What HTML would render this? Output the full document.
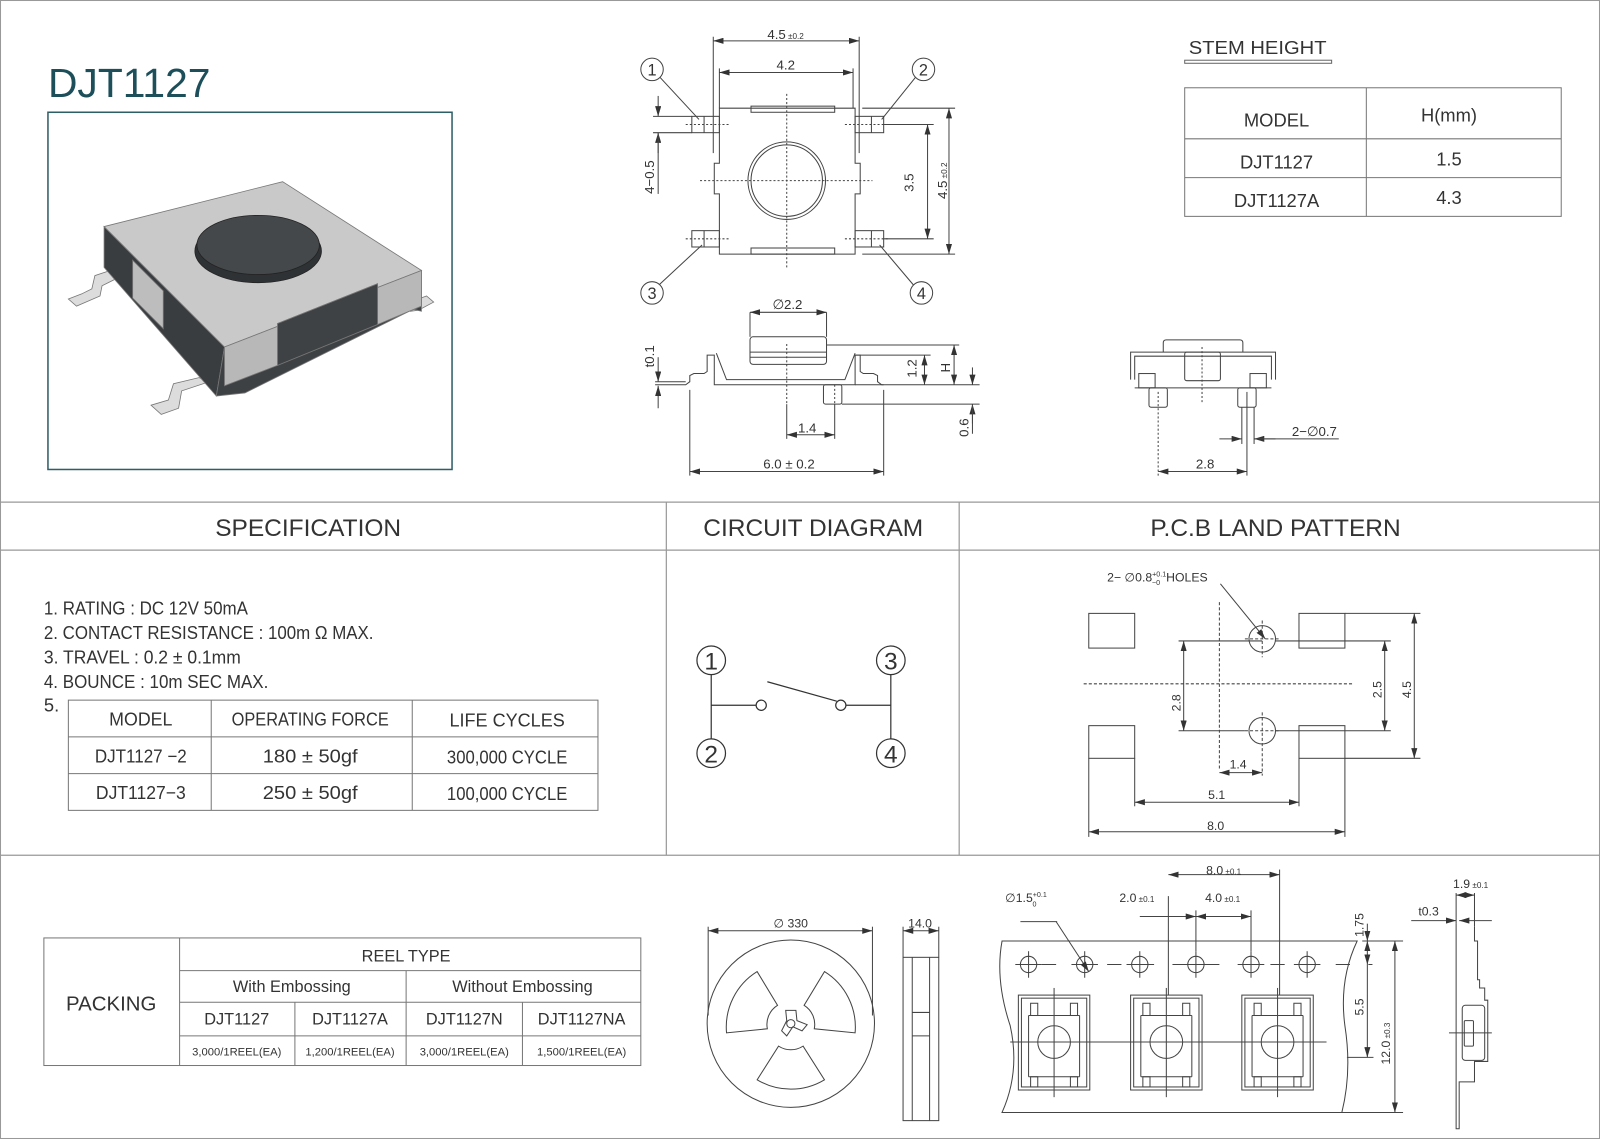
<!DOCTYPE html>
<html><head><meta charset="utf-8"><style>
html,body{margin:0;padding:0;background:#fff;}
svg{display:block;}
text{font-family:"Liberation Sans",sans-serif;fill:#333;}
</style></head><body>
<svg width="1600" height="1139" viewBox="0 0 1568 1116" preserveAspectRatio="none" xmlns="http://www.w3.org/2000/svg">
<defs>
<marker id="a" viewBox="0 0 10 6" refX="10" refY="3" markerWidth="10" markerHeight="6" orient="auto-start-reverse" markerUnits="userSpaceOnUse"><path d="M0,0 L10,3 L0,6z" fill="#333"/></marker>
</defs>
<rect x="0.5" y="0.5" width="1567" height="1115" fill="#fff" stroke="#999"/>
<g stroke="#999" stroke-width="1.2">
<line x1="0" y1="492" x2="1568" y2="492"/><line x1="0" y1="539" x2="1568" y2="539"/><line x1="0" y1="838" x2="1568" y2="838"/>
<line x1="653" y1="492" x2="653" y2="838"/><line x1="940" y1="492" x2="940" y2="838"/>
</g>
<text x="47" y="95" font-size="40" style="fill:#1d4f5a">DJT1127</text>
<rect x="47" y="110" width="396" height="350" fill="#fff" stroke="#2e5e66" stroke-width="1.5"/>
<!-- photo -->
<g stroke="#777" stroke-width="0.8">
<path d="M67,293 L80,288 L90,283 L93,270 L108,265 L120,263 L112,274 L100,280 L98,290 L75,300Z" fill="#dcdcdc"/>
<path d="M148,397 L165,392 L170,376 L195,370 L205,374 L178,383 L175,400 L158,406Z" fill="#dcdcdc"/>
<path d="M398,300 L410,293 L418,290 L425,296 L410,304 L402,305Z" fill="#dcdcdc"/>
<path d="M102,222 L102,262 L212,388 L220,340Z" fill="#3a3d40"/>
<path d="M130,255 L160,285 L160,322 L130,292Z" fill="#bdbdbd"/>
<path d="M220,340 L212,388 L240,385 L405,303 L413,305 L413,265Z" fill="#3e4144"/>
<path d="M102,222 L277,178 L413,265 L220,340Z" fill="#c9c9c9"/>
<path d="M220,340 L413,265 L413,300 L370,318 L370,278 L272,317 L272,358 L220,378Z" fill="#b8b8b8"/>
<path d="M272,317 L370,278 L370,318 L272,358Z" fill="#3f4245"/>
<ellipse cx="253" cy="246" rx="62" ry="31" fill="#2f3235" stroke="#222"/>
<ellipse cx="253" cy="240" rx="60" ry="29" fill="#45484b" stroke="#222"/>
</g>
<!-- top view -->
<g stroke="#444" stroke-width="1" fill="none">
<line x1="699" y1="36" x2="699" y2="150"/><line x1="842" y1="36" x2="842" y2="150"/>
<line x1="705" y1="67" x2="705" y2="106"/><line x1="836" y1="67" x2="836" y2="106"/>
<line x1="699" y1="40" x2="842" y2="40" marker-start="url(#a)" marker-end="url(#a)"/>
<line x1="705" y1="71" x2="836" y2="71" marker-start="url(#a)" marker-end="url(#a)"/>
<path d="M705,106 H838 V160 H843 V190 H838 V249 H705 V190 H700 V160 H705Z"/>
<rect x="736" y="104" width="82" height="6"/><rect x="736" y="243" width="82" height="6"/>
<circle cx="771" cy="177" r="38"/><circle cx="771" cy="177" r="35"/>
<rect x="678" y="114" width="27" height="16"/><rect x="678" y="226" width="27" height="16"/>
<rect x="838" y="114" width="28" height="16"/><rect x="838" y="226" width="28" height="16"/>
<line x1="690" y1="114" x2="690" y2="130"/><line x1="690" y1="226" x2="690" y2="242"/>
<line x1="854" y1="114" x2="854" y2="130"/><line x1="854" y1="226" x2="854" y2="242"/>
<g stroke-dasharray="2,2"><line x1="771" y1="92" x2="771" y2="262"/><line x1="686" y1="177" x2="855" y2="177"/>
<line x1="672" y1="122" x2="715" y2="122"/><line x1="672" y1="234" x2="715" y2="234"/><line x1="828" y1="122" x2="872" y2="122"/><line x1="828" y1="234" x2="872" y2="234"/></g>
<circle cx="639" cy="68" r="11"/><circle cx="905" cy="68" r="11"/><circle cx="639" cy="287" r="11"/><circle cx="903" cy="287" r="11"/>
<line x1="647" y1="76" x2="685" y2="117"/><line x1="897" y1="76" x2="864" y2="117"/><line x1="646" y1="279" x2="688" y2="240"/><line x1="895" y1="279" x2="862" y2="240"/>
<line x1="640" y1="114" x2="678" y2="114"/><line x1="640" y1="130" x2="678" y2="130"/>
<line x1="645" y1="94" x2="645" y2="114" marker-end="url(#a)"/><line x1="645" y1="150" x2="645" y2="130" marker-end="url(#a)"/>
<line x1="645" y1="130" x2="645" y2="190"/>
<line x1="866" y1="122" x2="915" y2="122"/><line x1="866" y1="234" x2="915" y2="234"/>
<line x1="909" y1="122" x2="909" y2="234" marker-start="url(#a)" marker-end="url(#a)"/>
<line x1="845" y1="106" x2="936" y2="106"/><line x1="845" y1="249" x2="936" y2="249"/>
<line x1="930" y1="106" x2="930" y2="249" marker-start="url(#a)" marker-end="url(#a)"/>
</g>
<g font-size="12">
<text x="752" y="38" font-size="13">4.5<tspan font-size="8"> ±0.2</tspan></text>
<text x="761" y="68" font-size="13">4.2</text>
<text x="639" y="74" font-size="16" text-anchor="middle">1</text><text x="905" y="74" font-size="16" text-anchor="middle">2</text>
<text x="639" y="293" font-size="16" text-anchor="middle">3</text><text x="903" y="293" font-size="16" text-anchor="middle">4</text>
<text transform="translate(641,190) rotate(-90)" font-size="13">4−0.5</text>
<text transform="translate(895,188) rotate(-90)" font-size="13">3.5</text>
<text transform="translate(928,195) rotate(-90)" font-size="13">4.5<tspan font-size="8"> ±0.2</tspan></text>
</g>
<!-- side view -->
<g stroke="#444" stroke-width="1" fill="none">
<path d="M642,377 H672 L676,374 V368 L680,366 H690 L693,364 V348 H700 V377 H838 V348 H843 V364 L846,366 H856 L860,368 V374 L864,377 H866"/>
<path d="M702,346 L712,372 H828 L838,346"/>
<rect x="735" y="330" width="75" height="27" rx="3"/><line x1="735" y1="345" x2="810" y2="345"/><line x1="735" y1="350" x2="810" y2="350"/>
<rect x="807" y="377" width="18" height="19" rx="2"/>
<line x1="771" y1="337" x2="771" y2="396" stroke-dasharray="2,2"/><line x1="818" y1="377" x2="818" y2="396" stroke-dasharray="2,2"/>
<line x1="735" y1="306" x2="810" y2="306" marker-start="url(#a)" marker-end="url(#a)"/>
<line x1="735" y1="306" x2="735" y2="330"/><line x1="810" y1="306" x2="810" y2="330"/>
<line x1="810" y1="338" x2="940" y2="338"/><line x1="838" y1="348" x2="912" y2="348"/><line x1="838" y1="377" x2="960" y2="377"/><line x1="825" y1="396" x2="960" y2="396"/>
<line x1="906" y1="348" x2="906" y2="377" marker-start="url(#a)" marker-end="url(#a)"/>
<line x1="935" y1="338" x2="935" y2="377" marker-start="url(#a)" marker-end="url(#a)"/>
<line x1="953" y1="360" x2="953" y2="377" marker-end="url(#a)"/><line x1="953" y1="415" x2="953" y2="396" marker-end="url(#a)"/><line x1="953" y1="396" x2="953" y2="425"/>
<line x1="645" y1="350" x2="645" y2="374" marker-end="url(#a)"/><line x1="645" y1="400" x2="645" y2="378" marker-end="url(#a)"/><line x1="642" y1="374" x2="672" y2="374"/>
<line x1="771" y1="396" x2="771" y2="430"/><line x1="818" y1="396" x2="818" y2="430"/>
<line x1="771" y1="426" x2="818" y2="426" marker-start="url(#a)" marker-end="url(#a)"/>
<line x1="676" y1="382" x2="676" y2="466"/><line x1="866" y1="382" x2="866" y2="466"/>
<line x1="676" y1="462" x2="866" y2="462" marker-start="url(#a)" marker-end="url(#a)"/>
</g>
<g font-size="13">
<text x="757" y="303">∅2.2</text><text x="782" y="424">1.4</text><text x="748" y="459">6.0 ± 0.2</text>
<text transform="translate(641,360) rotate(-90)">t0.1</text><text transform="translate(898,370) rotate(-90)">1.2</text>
<text transform="translate(931,365) rotate(-90)">H</text><text transform="translate(949,428) rotate(-90)">0.6</text>
</g>
<!-- right side view -->
<g stroke="#444" stroke-width="1" fill="none">
<path d="M1108,372 V345 H1250 V372"/><path d="M1112,372 V349 H1246 V372"/>
<path d="M1140,345 V336 Q1140,333 1143,333 H1215 Q1218,333 1218,336 V345"/>
<rect x="1161" y="345" width="35" height="28" rx="2"/>
<rect x="1116" y="366" width="16" height="14"/><rect x="1225" y="366" width="16" height="14"/>
<line x1="1112" y1="380" x2="1246" y2="380"/>
<rect x="1126" y="380" width="18" height="19" rx="2"/><rect x="1213" y="380" width="18" height="19" rx="2"/>
<line x1="1178" y1="340" x2="1178" y2="395" stroke-dasharray="2,2"/>
<line x1="1135" y1="384" x2="1135" y2="466" stroke-dasharray="2,2"/><line x1="1222" y1="384" x2="1222" y2="466"/>
<line x1="1217" y1="399" x2="1217" y2="435"/><line x1="1229" y1="399" x2="1229" y2="435"/>
<line x1="1195" y1="430" x2="1217" y2="430" marker-end="url(#a)"/><line x1="1250" y1="430" x2="1229" y2="430" marker-end="url(#a)"/><line x1="1229" y1="430" x2="1312" y2="430"/>
<line x1="1135" y1="462" x2="1222" y2="462" marker-start="url(#a)" marker-end="url(#a)"/>
</g>
<g font-size="13"><text x="1266" y="427">2−∅0.7</text><text x="1172" y="459">2.8</text></g>
<!-- stem height table -->
<text x="1165" y="53" font-size="18" textLength="135" lengthAdjust="spacingAndGlyphs">STEM HEIGHT</text>
<rect x="1161" y="59" width="144" height="3" fill="none" stroke="#666"/>
<g stroke="#777" stroke-width="1" fill="none">
<rect x="1161" y="86" width="369" height="126"/><line x1="1339" y1="86" x2="1339" y2="212"/>
<line x1="1161" y1="136" x2="1530" y2="136"/><line x1="1161" y1="174" x2="1530" y2="174"/>
</g>
<g font-size="18" text-anchor="middle"><text x="1251" y="124">MODEL</text><text x="1420" y="119">H(mm)</text>
<text x="1251" y="165">DJT1127</text><text x="1420" y="162">1.5</text><text x="1251" y="203">DJT1127A</text><text x="1420" y="200">4.3</text></g>
<!-- headers -->
<g font-size="24" text-anchor="middle"><text x="302" y="525">SPECIFICATION</text><text x="797" y="525">CIRCUIT DIAGRAM</text><text x="1250" y="525">P.C.B LAND PATTERN</text></g>
<!-- spec -->
<g font-size="18" lengthAdjust="spacingAndGlyphs">
<text x="43" y="602" textLength="200" lengthAdjust="spacingAndGlyphs">1. RATING : DC 12V 50mA</text>
<text x="43" y="626" textLength="323" lengthAdjust="spacingAndGlyphs">2. CONTACT RESISTANCE : 100m Ω  MAX.</text>
<text x="43" y="650" textLength="193" lengthAdjust="spacingAndGlyphs">3. TRAVEL :  0.2 ± 0.1mm</text>
<text x="43" y="674" textLength="220" lengthAdjust="spacingAndGlyphs">4. BOUNCE : 10m SEC MAX.</text><text x="43" y="697">5.</text>
</g>
<g stroke="#777" fill="none"><rect x="67" y="686" width="519" height="108"/><line x1="207" y1="686" x2="207" y2="794"/><line x1="404" y1="686" x2="404" y2="794"/>
<line x1="67" y1="722" x2="586" y2="722"/><line x1="67" y1="758" x2="586" y2="758"/></g>
<g font-size="18" text-anchor="middle">
<text x="138" y="711" textLength="62" lengthAdjust="spacingAndGlyphs">MODEL</text><text x="304" y="711" textLength="154" lengthAdjust="spacingAndGlyphs">OPERATING FORCE</text><text x="497" y="712" textLength="113" lengthAdjust="spacingAndGlyphs">LIFE CYCLES</text>
<text x="138" y="747" textLength="90" lengthAdjust="spacingAndGlyphs">DJT1127 −2</text><text x="304" y="747" textLength="93" lengthAdjust="spacingAndGlyphs">180  ±  50gf</text><text x="497" y="748" textLength="118" lengthAdjust="spacingAndGlyphs">300,000 CYCLE</text>
<text x="138" y="783" textLength="88" lengthAdjust="spacingAndGlyphs">DJT1127−3</text><text x="304" y="783" textLength="93" lengthAdjust="spacingAndGlyphs">250  ±  50gf</text><text x="497" y="784" textLength="118" lengthAdjust="spacingAndGlyphs">100,000 CYCLE</text>
</g>
<!-- circuit -->
<g stroke="#333" stroke-width="1.2" fill="none">
<circle cx="697" cy="647" r="14"/><circle cx="873" cy="647" r="14"/><circle cx="697" cy="738" r="14"/><circle cx="873" cy="738" r="14"/>
<line x1="697" y1="661" x2="697" y2="724"/><line x1="873" y1="661" x2="873" y2="724"/>
<line x1="697" y1="691" x2="741" y2="691"/><circle cx="746" cy="691" r="5"/>
<line x1="752" y1="668" x2="820" y2="687"/><circle cx="824" cy="691" r="5"/><line x1="829" y1="691" x2="873" y2="691"/>
</g>
<g font-size="24" text-anchor="middle"><text x="697" y="656">1</text><text x="873" y="656">3</text><text x="697" y="747">2</text><text x="873" y="747">4</text></g>
<!-- PCB -->
<g stroke="#444" stroke-width="1" fill="none">
<rect x="1067" y="601" width="45" height="34"/><rect x="1273" y="601" width="45" height="34"/>
<rect x="1067" y="711" width="45" height="32"/><rect x="1273" y="711" width="45" height="32"/>
<circle cx="1237" cy="626" r="13"/><circle cx="1237" cy="716" r="13"/>
<g stroke-dasharray="3,2"><line x1="1062" y1="670" x2="1325" y2="670"/><line x1="1195" y1="590" x2="1195" y2="755"/>
<line x1="1220" y1="626" x2="1254" y2="626"/><line x1="1237" y1="608" x2="1237" y2="644"/><line x1="1220" y1="716" x2="1254" y2="716"/><line x1="1237" y1="698" x2="1237" y2="760"/></g>
<line x1="1155" y1="628" x2="1237" y2="628"/><line x1="1155" y1="716" x2="1220" y2="716"/>
<line x1="1160" y1="628" x2="1160" y2="716" marker-start="url(#a)" marker-end="url(#a)"/>
<line x1="1250" y1="628" x2="1363" y2="628"/><line x1="1250" y1="716" x2="1363" y2="716"/>
<line x1="1357" y1="628" x2="1357" y2="716" marker-start="url(#a)" marker-end="url(#a)"/>
<line x1="1318" y1="601" x2="1392" y2="601"/><line x1="1318" y1="743" x2="1392" y2="743"/>
<line x1="1386" y1="601" x2="1386" y2="743" marker-start="url(#a)" marker-end="url(#a)"/>
<line x1="1195" y1="757" x2="1237" y2="757" marker-start="url(#a)" marker-end="url(#a)"/>
<line x1="1112" y1="743" x2="1112" y2="790"/><line x1="1273" y1="743" x2="1273" y2="790"/>
<line x1="1112" y1="786" x2="1273" y2="786" marker-start="url(#a)" marker-end="url(#a)"/>
<line x1="1067" y1="743" x2="1067" y2="820"/><line x1="1318" y1="743" x2="1318" y2="820"/>
<line x1="1067" y1="815" x2="1318" y2="815" marker-start="url(#a)" marker-end="url(#a)"/>
<line x1="1196" y1="572" x2="1240" y2="626" marker-end="url(#a)"/>
</g>
<g font-size="12"><text x="1085" y="570">2− ∅0.8<tspan font-size="7" dy="-5">+0.1</tspan><tspan font-size="7" dx="-14" dy="8">−0</tspan><tspan dx="6" dy="-3">HOLES</tspan></text>
<text x="1205" y="753">1.4</text><text x="1184" y="783">5.1</text><text x="1183" y="813">8.0</text>
<text transform="translate(1157,697) rotate(-90)">2.8</text><text transform="translate(1354,684) rotate(-90)">2.5</text><text transform="translate(1383,684) rotate(-90)">4.5</text></g>
<!-- packing table -->
<g stroke="#777" fill="none"><rect x="43" y="919" width="585" height="125"/><line x1="176" y1="919" x2="176" y2="1044"/>
<line x1="176" y1="951" x2="628" y2="951"/><line x1="176" y1="982" x2="628" y2="982"/><line x1="176" y1="1015" x2="628" y2="1015"/>
<line x1="398" y1="951" x2="398" y2="1044"/><line x1="289" y1="982" x2="289" y2="1044"/><line x1="512" y1="982" x2="512" y2="1044"/></g>
<g text-anchor="middle" font-size="16"><text x="109" y="990" font-size="20">PACKING</text><text x="398" y="942">REEL TYPE</text>
<text x="286" y="972">With Embossing</text><text x="512" y="972">Without Embossing</text>
<text x="232" y="1004">DJT1127</text><text x="343" y="1004">DJT1127A</text><text x="455" y="1004">DJT1127N</text><text x="570" y="1004">DJT1127NA</text>
<g font-size="11"><text x="232" y="1034">3,000/1REEL(EA)</text><text x="343" y="1034">1,200/1REEL(EA)</text><text x="455" y="1034">3,000/1REEL(EA)</text><text x="570" y="1034">1,500/1REEL(EA)</text></g></g>
<!-- reel -->
<g stroke="#444" stroke-width="1" fill="none">
<circle cx="775" cy="1003" r="82"/>
<path d="M712,1012 A64,64 0 0 1 742,952 L762,985 A22,22 0 0 0 752,1008Z"/>
<path d="M808,952 A64,64 0 0 1 838,1012 L798,1008 A22,22 0 0 0 788,985Z"/>
<path d="M742,1058 A64,64 0 0 0 808,1058 L787,1025 A22,22 0 0 1 763,1025Z"/>
<path d="M770,990 L780,990 L781,1000 L791,1004 L786,1010 L777,1006 L771,1015 L766,1010 L771,1000Z"/>
<circle cx="775" cy="1003" r="4"/>
<line x1="694" y1="908" x2="694" y2="995"/><line x1="855" y1="908" x2="855" y2="995"/>
<line x1="694" y1="912" x2="855" y2="912" marker-start="url(#a)" marker-end="url(#a)"/>
<rect x="885" y="938" width="35" height="160"/><line x1="894" y1="938" x2="894" y2="1098"/><line x1="911" y1="938" x2="911" y2="1098"/>
<line x1="894" y1="992" x2="911" y2="992"/><line x1="894" y1="1015" x2="911" y2="1015"/>
<line x1="885" y1="908" x2="885" y2="938"/><line x1="920" y1="908" x2="920" y2="938"/>
<line x1="885" y1="912" x2="920" y2="912" marker-start="url(#a)" marker-end="url(#a)"/>
</g>
<g font-size="12"><text x="758" y="909">∅ 330</text><text x="890" y="909">14.0</text></g>
<!-- tape -->
<g stroke="#444" stroke-width="1" fill="none">
<path d="M982,922 H1330 Q1312,960 1318,1005 Q1325,1050 1315,1090 H982 Q1000,1050 990,1005 Q975,960 982,922Z"/>
<g id="h"><circle cx="1008" cy="945" r="8"/><line x1="995" y1="945" x2="1021" y2="945"/><line x1="1008" y1="932" x2="1008" y2="958"/></g>
<use href="#h" x="55"/><use href="#h" x="109"/><use href="#h" x="164"/><use href="#h" x="218"/><use href="#h" x="273"/>
<line x1="1021" y1="945" x2="1345" y2="945" stroke-dasharray="14,18"/>
<g id="p"><rect x="998" y="975" width="70" height="93"/><rect x="1001" y="978" width="64" height="87"/>
<path d="M1008,995 V1055 M1058,995 V1055 M1008,995 H1058 M1008,1055 H1058"/>
<rect x="1010" y="983" width="7" height="12"/><rect x="1049" y="983" width="7" height="12"/>
<rect x="1010" y="1055" width="7" height="10"/><rect x="1049" y="1055" width="7" height="10"/>
<circle cx="1033" cy="1021" r="16"/><line x1="1033" y1="968" x2="1033" y2="1075"/></g>
<use href="#p" x="110"/><use href="#p" x="219"/>
<line x1="990" y1="1021" x2="1300" y2="1021"/>
<line x1="1035" y1="903" x2="1067" y2="952" marker-end="url(#a)"/><line x1="1000" y1="903" x2="1036" y2="903"/>
<line x1="1117" y1="898" x2="1145" y2="898"/><line x1="1145" y1="878" x2="1145" y2="975"/><line x1="1172" y1="892" x2="1172" y2="932"/><line x1="1226" y1="892" x2="1226" y2="932"/><line x1="1254" y1="852" x2="1254" y2="975"/>
<line x1="1145" y1="857" x2="1254" y2="857" marker-start="url(#a)" marker-end="url(#a)"/>
<line x1="1145" y1="898" x2="1172" y2="898" marker-end="url(#a)"/><line x1="1172" y1="898" x2="1226" y2="898" marker-start="url(#a)" marker-end="url(#a)"/>
<line x1="1335" y1="922" x2="1375" y2="922"/><line x1="1320" y1="1036" x2="1346" y2="1036"/>
<line x1="1340" y1="905" x2="1340" y2="922" marker-end="url(#a)"/><line x1="1340" y1="922" x2="1340" y2="945" marker-start="url(#a)" marker-end="url(#a)"/><line x1="1340" y1="945" x2="1340" y2="1036" marker-end="url(#a)"/>
<line x1="1367" y1="922" x2="1367" y2="1090" marker-start="url(#a)" marker-end="url(#a)"/><line x1="1315" y1="1090" x2="1375" y2="1090"/>
</g>
<g font-size="12"><text x="985" y="884">∅1.5<tspan font-size="7" dy="-5">+0.1</tspan><tspan font-size="7" dx="-14" dy="9">0</tspan></text>
<text x="1097" y="884">2.0<tspan font-size="8"> ±0.1</tspan></text><text x="1181" y="884">4.0<tspan font-size="8"> ±0.1</tspan></text>
<text x="1182" y="857">8.0<tspan font-size="8"> ±0.1</tspan></text>
<text transform="translate(1336,918) rotate(-90)">1.75</text><text transform="translate(1336,995) rotate(-90)">5.5</text>
<text transform="translate(1362,1043) rotate(-90)">12.0<tspan font-size="8"> ±0.3</tspan></text>
<text x="1390" y="897">t0.3</text><text x="1424" y="870">1.9<tspan font-size="8"> ±0.1</tspan></text></g>
<!-- tape side -->
<g stroke="#444" stroke-width="1" fill="none">
<path d="M1427,905 V1106 H1430 V1060 H1445 V1040 H1458 V980 H1455 V968 H1450 V960 H1448 V922 H1445 V908"/>
<rect x="1433" y="985" width="22" height="54" rx="3"/><rect x="1435" y="1000" width="9" height="25" rx="1"/>
<line x1="1420" y1="1012" x2="1462" y2="1012"/>
<line x1="1383" y1="902" x2="1427" y2="902" marker-end="url(#a)"/><line x1="1462" y1="902" x2="1430" y2="902" marker-end="url(#a)"/>
<line x1="1427" y1="875" x2="1427" y2="905"/><line x1="1445" y1="875" x2="1445" y2="908"/>
<line x1="1427" y1="877" x2="1445" y2="877" marker-start="url(#a)" marker-end="url(#a)"/>
</g>
</svg>
</body></html>
